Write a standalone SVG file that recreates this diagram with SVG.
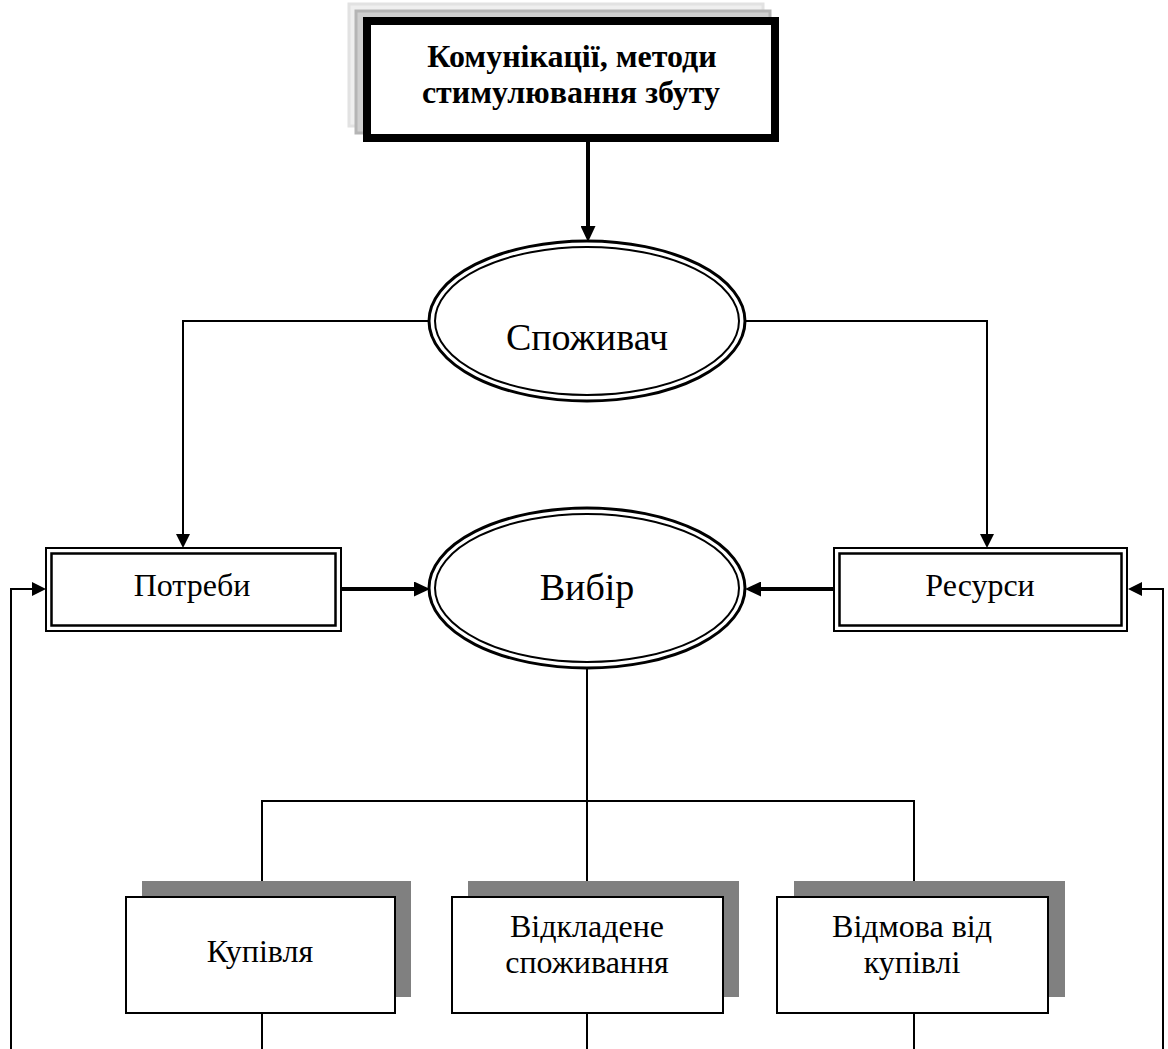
<svg xmlns="http://www.w3.org/2000/svg" width="1168" height="1049" viewBox="0 0 1168 1049">
<defs>
<marker id="arrB" viewBox="0 0 16 15" markerWidth="16" markerHeight="15" refX="12" refY="7.5" orient="auto" markerUnits="userSpaceOnUse"><path d="M0,0 L16,7.5 L0,15 z" fill="#000"/></marker>
<marker id="arr" viewBox="0 0 14 14" markerWidth="14" markerHeight="14" refX="12" refY="7" orient="auto" markerUnits="userSpaceOnUse"><path d="M0,0 L14,7 L0,14 z" fill="#000"/></marker>
</defs>
<style>
text{font-family:"Liberation Serif","Times New Roman",serif;fill:#000;text-anchor:middle}
.thin{fill:none;stroke:#000;stroke-width:2}
.thick{fill:none;stroke:#000;stroke-width:4}
.box{fill:#fff;stroke:#000;stroke-width:2}
.shadow{fill:#808080}
.ell-o{fill:#fff;stroke:#000;stroke-width:3}
.ell-i{fill:none;stroke:#000;stroke-width:2}
.dbl-o{fill:#fff;stroke:#000;stroke-width:2}
.dbl-i{fill:none;stroke:#000;stroke-width:2.5}
.lbl{font-size:32px}
.big{font-size:38px}
.bold{font-size:32px;font-weight:bold}
</style>
<rect width="1168" height="1049" fill="#fff"/>
<g id="connectors">
<path class="thick" d="M588,142 V238" marker-end="url(#arrB)"/>
<path class="thin" d="M430,321 H183 V546" marker-end="url(#arr)"/>
<path class="thin" d="M745,321 H987 V546" marker-end="url(#arr)"/>
<path class="thick" d="M342,589 H426" marker-end="url(#arrB)"/>
<path class="thick" d="M833,589 H749" marker-end="url(#arrB)"/>
<path class="thin" d="M11,1049 V589 H44" marker-end="url(#arr)"/>
<path class="thin" d="M1163,1049 V589 H1130" marker-end="url(#arr)"/>
<path class="thin" d="M587,667 V895" marker-end="url(#arr)"/>
<path class="thin" d="M262,895 V801 H914 V895" marker-end="url(#arr)"/>
<path class="thin" d="M262,801 V895" marker-end="url(#arr)"/>
<path class="thin" d="M262,1013 V1049 M587,1013 V1049 M914,1013 V1049"/>
</g>
<g id="node-communications">
<rect x="349" y="4" width="414" height="122" fill="#efefef" stroke="#e2e2e2" stroke-width="3"/>
<rect x="356" y="11" width="414" height="122" fill="#cfcfcf" stroke="#b5b5b5" stroke-width="3"/>
<rect x="367" y="21" width="408" height="117" fill="#fff" stroke="#000" stroke-width="8"/>
<text class="bold" x="572" y="67">Комунікації, методи</text>
<text class="bold" x="571" y="103">стимулювання збуту</text>
</g>
<g id="node-consumer">
<ellipse class="ell-o" cx="587" cy="321" rx="158" ry="80"/>
<ellipse class="ell-i" cx="587" cy="321" rx="152" ry="74"/>
<text class="big" x="587" y="350">Споживач</text>
</g>
<g id="node-choice">
<ellipse class="ell-o" cx="587" cy="588" rx="158" ry="80"/>
<ellipse class="ell-i" cx="587" cy="588" rx="152" ry="74"/>
<text class="big" x="587" y="600">Вибір</text>
</g>
<g id="node-needs">
<rect class="dbl-o" x="46" y="548" width="295" height="83"/>
<rect class="dbl-i" x="51.5" y="553.5" width="284" height="72"/>
<text class="lbl" x="192" y="596">Потреби</text>
</g>
<g id="node-resources">
<rect class="dbl-o" x="834" y="548" width="293" height="83"/>
<rect class="dbl-i" x="839.5" y="553.5" width="282" height="72"/>
<text class="lbl" x="980" y="596">Ресурси</text>
</g>
<g id="node-purchase">
<rect class="shadow" x="142" y="881" width="269" height="116"/>
<rect class="box" x="126" y="897" width="269" height="116"/>
<text class="lbl" x="260" y="962">Купівля</text>
</g>
<g id="node-deferred">
<rect class="shadow" x="468" y="881" width="271" height="116"/>
<rect class="box" x="452" y="897" width="271" height="116"/>
<text class="lbl" x="587" y="937">Відкладене</text>
<text class="lbl" x="587" y="973">споживання</text>
</g>
<g id="node-refusal">
<rect class="shadow" x="794" y="881" width="271" height="116"/>
<rect class="box" x="777" y="897" width="271" height="116"/>
<text class="lbl" x="912" y="937">Відмова від</text>
<text class="lbl" x="912" y="973">купівлі</text>
</g>
</svg>
